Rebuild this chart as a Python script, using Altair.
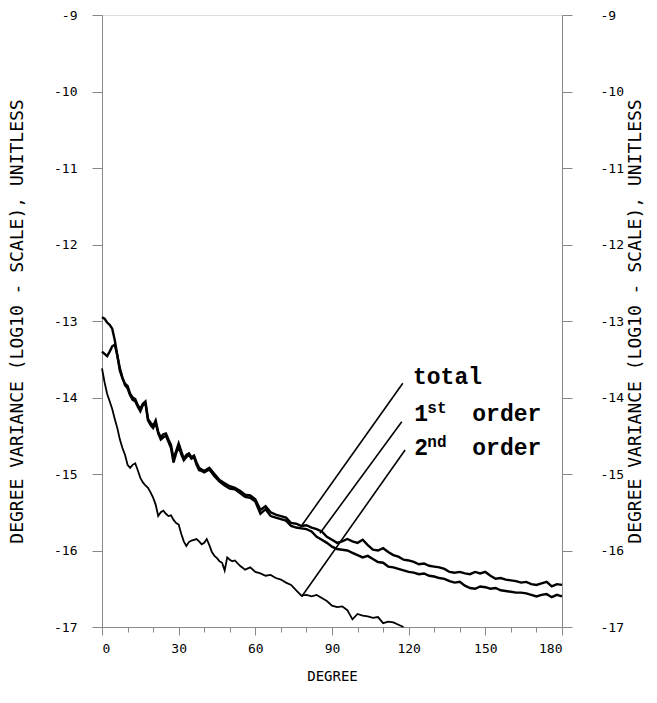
import altair as alt
import pandas as pd

# ---------------- data ----------------
total_deg = list(range(0, 41)) + list(range(42, 181, 2))
total_val = [
    -12.95, -12.97, -13.02, -13.05, -13.10, -13.25, -13.45, -13.65, -13.75, -13.82,
    -13.85, -13.95, -14.00, -14.02, -14.10, -14.15, -14.08, -14.05, -14.28, -14.33,
    -14.37, -14.30, -14.45, -14.52, -14.48, -14.47, -14.55, -14.62, -14.80, -14.70,
    -14.60, -14.70, -14.80, -14.75, -14.73, -14.78, -14.76, -14.85, -14.92, -14.94,
    -14.96,
    -14.92, -15.00, -15.08, -15.12, -15.16, -15.18, -15.22, -15.27, -15.28, -15.33,
    -15.47, -15.42, -15.50, -15.53, -15.55, -15.57, -15.64, -15.65, -15.68, -15.67,
    -15.70, -15.72, -15.75, -15.82, -15.86, -15.90, -15.88, -15.85, -15.88, -15.90,
    -15.86, -15.93, -15.99, -16.00, -15.97, -16.02, -16.06, -16.08, -16.12, -16.13,
    -16.15, -16.18, -16.17, -16.20, -16.21, -16.22, -16.24, -16.28, -16.29, -16.28,
    -16.30, -16.31, -16.28, -16.30, -16.28, -16.33, -16.37, -16.36, -16.38, -16.39,
    -16.40, -16.42, -16.41, -16.44, -16.45, -16.43, -16.41, -16.47, -16.44, -16.45,
]

first_deg = list(range(0, 41)) + list(range(42, 181, 2))
first_val = [
    -13.40, -13.43, -13.46, -13.40, -13.33, -13.31, -13.45, -13.62, -13.74, -13.84,
    -13.88, -13.97, -14.03, -14.05, -14.12, -14.18, -14.10, -14.08, -14.30, -14.36,
    -14.40, -14.33, -14.47, -14.55, -14.52, -14.50, -14.58, -14.66, -14.85, -14.73,
    -14.64, -14.74, -14.82, -14.78, -14.75, -14.80, -14.78, -14.88, -14.95, -14.96,
    -14.98,
    -14.94, -15.03, -15.10, -15.15, -15.19, -15.20, -15.25, -15.30, -15.31, -15.36,
    -15.52, -15.46, -15.55, -15.57, -15.59, -15.61, -15.68, -15.70, -15.71, -15.72,
    -15.75, -15.82, -15.86, -15.90, -15.95, -15.98, -15.99, -16.00, -16.03, -16.06,
    -16.09, -16.07, -16.11, -16.15, -16.16, -16.21, -16.22, -16.24, -16.26, -16.28,
    -16.29, -16.31, -16.30, -16.33, -16.34, -16.36, -16.37, -16.40, -16.42, -16.41,
    -16.46, -16.49, -16.50, -16.47, -16.48, -16.50, -16.49, -16.52, -16.53, -16.54,
    -16.55, -16.55, -16.56, -16.58, -16.60, -16.58, -16.57, -16.61, -16.58, -16.60,
]

second_deg = list(range(0, 53)) + list(range(54, 119, 2))
second_val = [
    -13.62, -13.80, -13.95, -14.05, -14.15, -14.28, -14.40, -14.55, -14.66, -14.75,
    -14.88, -14.92, -14.88, -14.86, -14.95, -15.05, -15.11, -15.15, -15.18, -15.24,
    -15.31, -15.40, -15.55, -15.50, -15.48, -15.52, -15.55, -15.54, -15.60, -15.64,
    -15.66, -15.78, -15.88, -15.94, -15.89, -15.87, -15.86, -15.85, -15.88, -15.92,
    -15.90, -15.85, -15.93, -16.02, -16.07, -16.10, -16.14, -16.16, -16.26, -16.09,
    -16.12, -16.14, -16.13,
    -16.20, -16.25, -16.22, -16.28, -16.30, -16.33, -16.32, -16.36, -16.38, -16.42,
    -16.45, -16.52, -16.59, -16.58, -16.60, -16.58, -16.62, -16.66, -16.72, -16.74,
    -16.73, -16.78, -16.90, -16.83, -16.85, -16.86, -16.88, -16.87, -16.95, -16.93,
    -16.94, -16.97, -17.00,
]

y_ticks = [-17, -16, -15, -14, -13, -12, -11, -10, -9]
x_ticks = list(range(0, 181, 10))
y_title = "DEGREE VARIANCE (LOG10 - SCALE), UNITLESS"
x_title = "DEGREE"

# leader lines (start on curve -> end at label)
lead_x = [78.1, 85.3, 78.1]
lead_y = [-15.676, -15.775, -16.604]
lead_x2 = [117.7, 117.3, 118.6]
lead_y2 = [-13.814, -14.316, -14.686]

# label pieces
head_text = ["total", "1", "2"]
head_x = [121.7, 122.2, 122.2]
head_y = [-13.82, -14.31, -14.75]
order_text = ["order", "order"]
order_x = [122.2, 122.2]
order_y = [-14.31, -14.75]
sup_text = ["st", "nd"]
sup_x = [122.2, 122.2]
sup_y = [-14.31, -14.75]

# ---------------- frames ----------------
df_total = pd.DataFrame({"deg": total_deg, "val": total_val})
df_first = pd.DataFrame({"deg": first_deg, "val": first_val})
df_second = pd.DataFrame({"deg": second_deg, "val": second_val})
df_lead = pd.DataFrame({"x": lead_x, "y": lead_y, "x2": lead_x2, "y2": lead_y2})
df_head = pd.DataFrame({"t": head_text, "x": head_x, "y": head_y})
df_order = pd.DataFrame({"t": order_text, "x": order_x, "y": order_y})
df_sup = pd.DataFrame({"t": sup_text, "x": sup_x, "y": sup_y})

xscale = alt.Scale(domain=[0, 180], nice=False, zero=False)
yscale = alt.Scale(domain=[-17, -9], nice=False, zero=False)

tick_font = "DejaVu Sans Mono"

x_axis = alt.Axis(
    values=x_ticks,
    grid=False,
    labelExpr="datum.value % 30 === 0 ? '' + datum.value : ''",
    tickSize={"condition": {"test": "datum.value % 30 === 0", "value": 8}, "value": 5},
    labelPadding=7,
    labelFont=tick_font,
    labelFontSize=13,
    title=x_title,
    titleFont=tick_font,
    titleFontSize=14,
    titleFontWeight="normal",
    titleX=230,
    titleY=49,
    titleAlign="center",
    titleBaseline="middle",
)

left_axis = alt.Axis(
    orient="left",
    grid=False,
    values=y_ticks,
    labelExpr="'' + datum.value",
    tickSize=10,
    labelPadding=15,
    labelFont=tick_font,
    labelFontSize=13,
    title=y_title,
    titleFont=tick_font,
    titleFontSize=18,
    titleFontWeight="normal",
    titleAngle=270,
    titleX=-85,
    titleY=306,
    titleAlign="center",
    titleBaseline="middle",
)

right_axis = alt.Axis(
    orient="right",
    grid=False,
    values=y_ticks,
    labelExpr="'' + datum.value",
    tickSize=10,
    labelPadding=28,
    labelAlign="left",
    labelFont=tick_font,
    labelFontSize=13,
    title=y_title,
    titleFont=tick_font,
    titleFontSize=18,
    titleFontWeight="normal",
    titleAngle=270,
    titleX=73,
    titleY=306,
    titleAlign="center",
    titleBaseline="middle",
)


def X(field):
    return alt.X(field, type="quantitative", scale=xscale, axis=x_axis)


line_total = alt.Chart(df_total).mark_line(color="black", strokeWidth=2.4).encode(
    x=X("deg"),
    y=alt.Y("val:Q", scale=yscale, axis=left_axis),
)
line_first = alt.Chart(df_first).mark_line(color="black", strokeWidth=2.4).encode(
    x=X("deg"),
    y=alt.Y("val:Q", scale=yscale, axis=right_axis),
)
line_second = alt.Chart(df_second).mark_line(color="black", strokeWidth=1.8).encode(
    x=X("deg"),
    y=alt.Y("val:Q", scale=yscale, axis=None),
)
leaders = alt.Chart(df_lead).mark_rule(color="black", strokeWidth=1.6).encode(
    x=X("x"),
    y=alt.Y("y:Q", scale=yscale, axis=None),
    x2="x2:Q",
    y2="y2:Q",
)
heads = alt.Chart(df_head).mark_text(
    font="Liberation Mono", fontSize=23, fontWeight="bold", align="left",
    baseline="alphabetic", color="black",
).encode(
    x=X("x"),
    y=alt.Y("y:Q", scale=yscale, axis=None),
    text="t:N",
)
orders = alt.Chart(df_order).mark_text(
    font="Liberation Mono", fontSize=23, fontWeight="bold", align="left",
    baseline="alphabetic", color="black", dx=58,
).encode(
    x=X("x"),
    y=alt.Y("y:Q", scale=yscale, axis=None),
    text="t:N",
)
sups = alt.Chart(df_sup).mark_text(
    font="Liberation Mono", fontSize=16, fontWeight="bold", align="left",
    baseline="alphabetic", color="black", dx=13, dy=-8,
).encode(
    x=X("x"),
    y=alt.Y("y:Q", scale=yscale, axis=None),
    text="t:N",
)

chart = alt.layer(
    line_total, line_first, line_second, leaders, heads, orders, sups
).resolve_axis(y="independent").properties(
    width=460,
    height=612,
    autosize=alt.AutoSizeParams(type="none"),
    padding={"left": 102, "top": 15, "right": 95, "bottom": 76},
).configure_axis(
    domainColor="black",
    domainWidth=1.6,
    tickColor="black",
    tickWidth=1.5,
    labelColor="black",
    titleColor="black",
    grid=False,
).configure_view(stroke=None).configure(background="white")

chart.save("out.html", embed_options={"renderer": "svg", "actions": False})
